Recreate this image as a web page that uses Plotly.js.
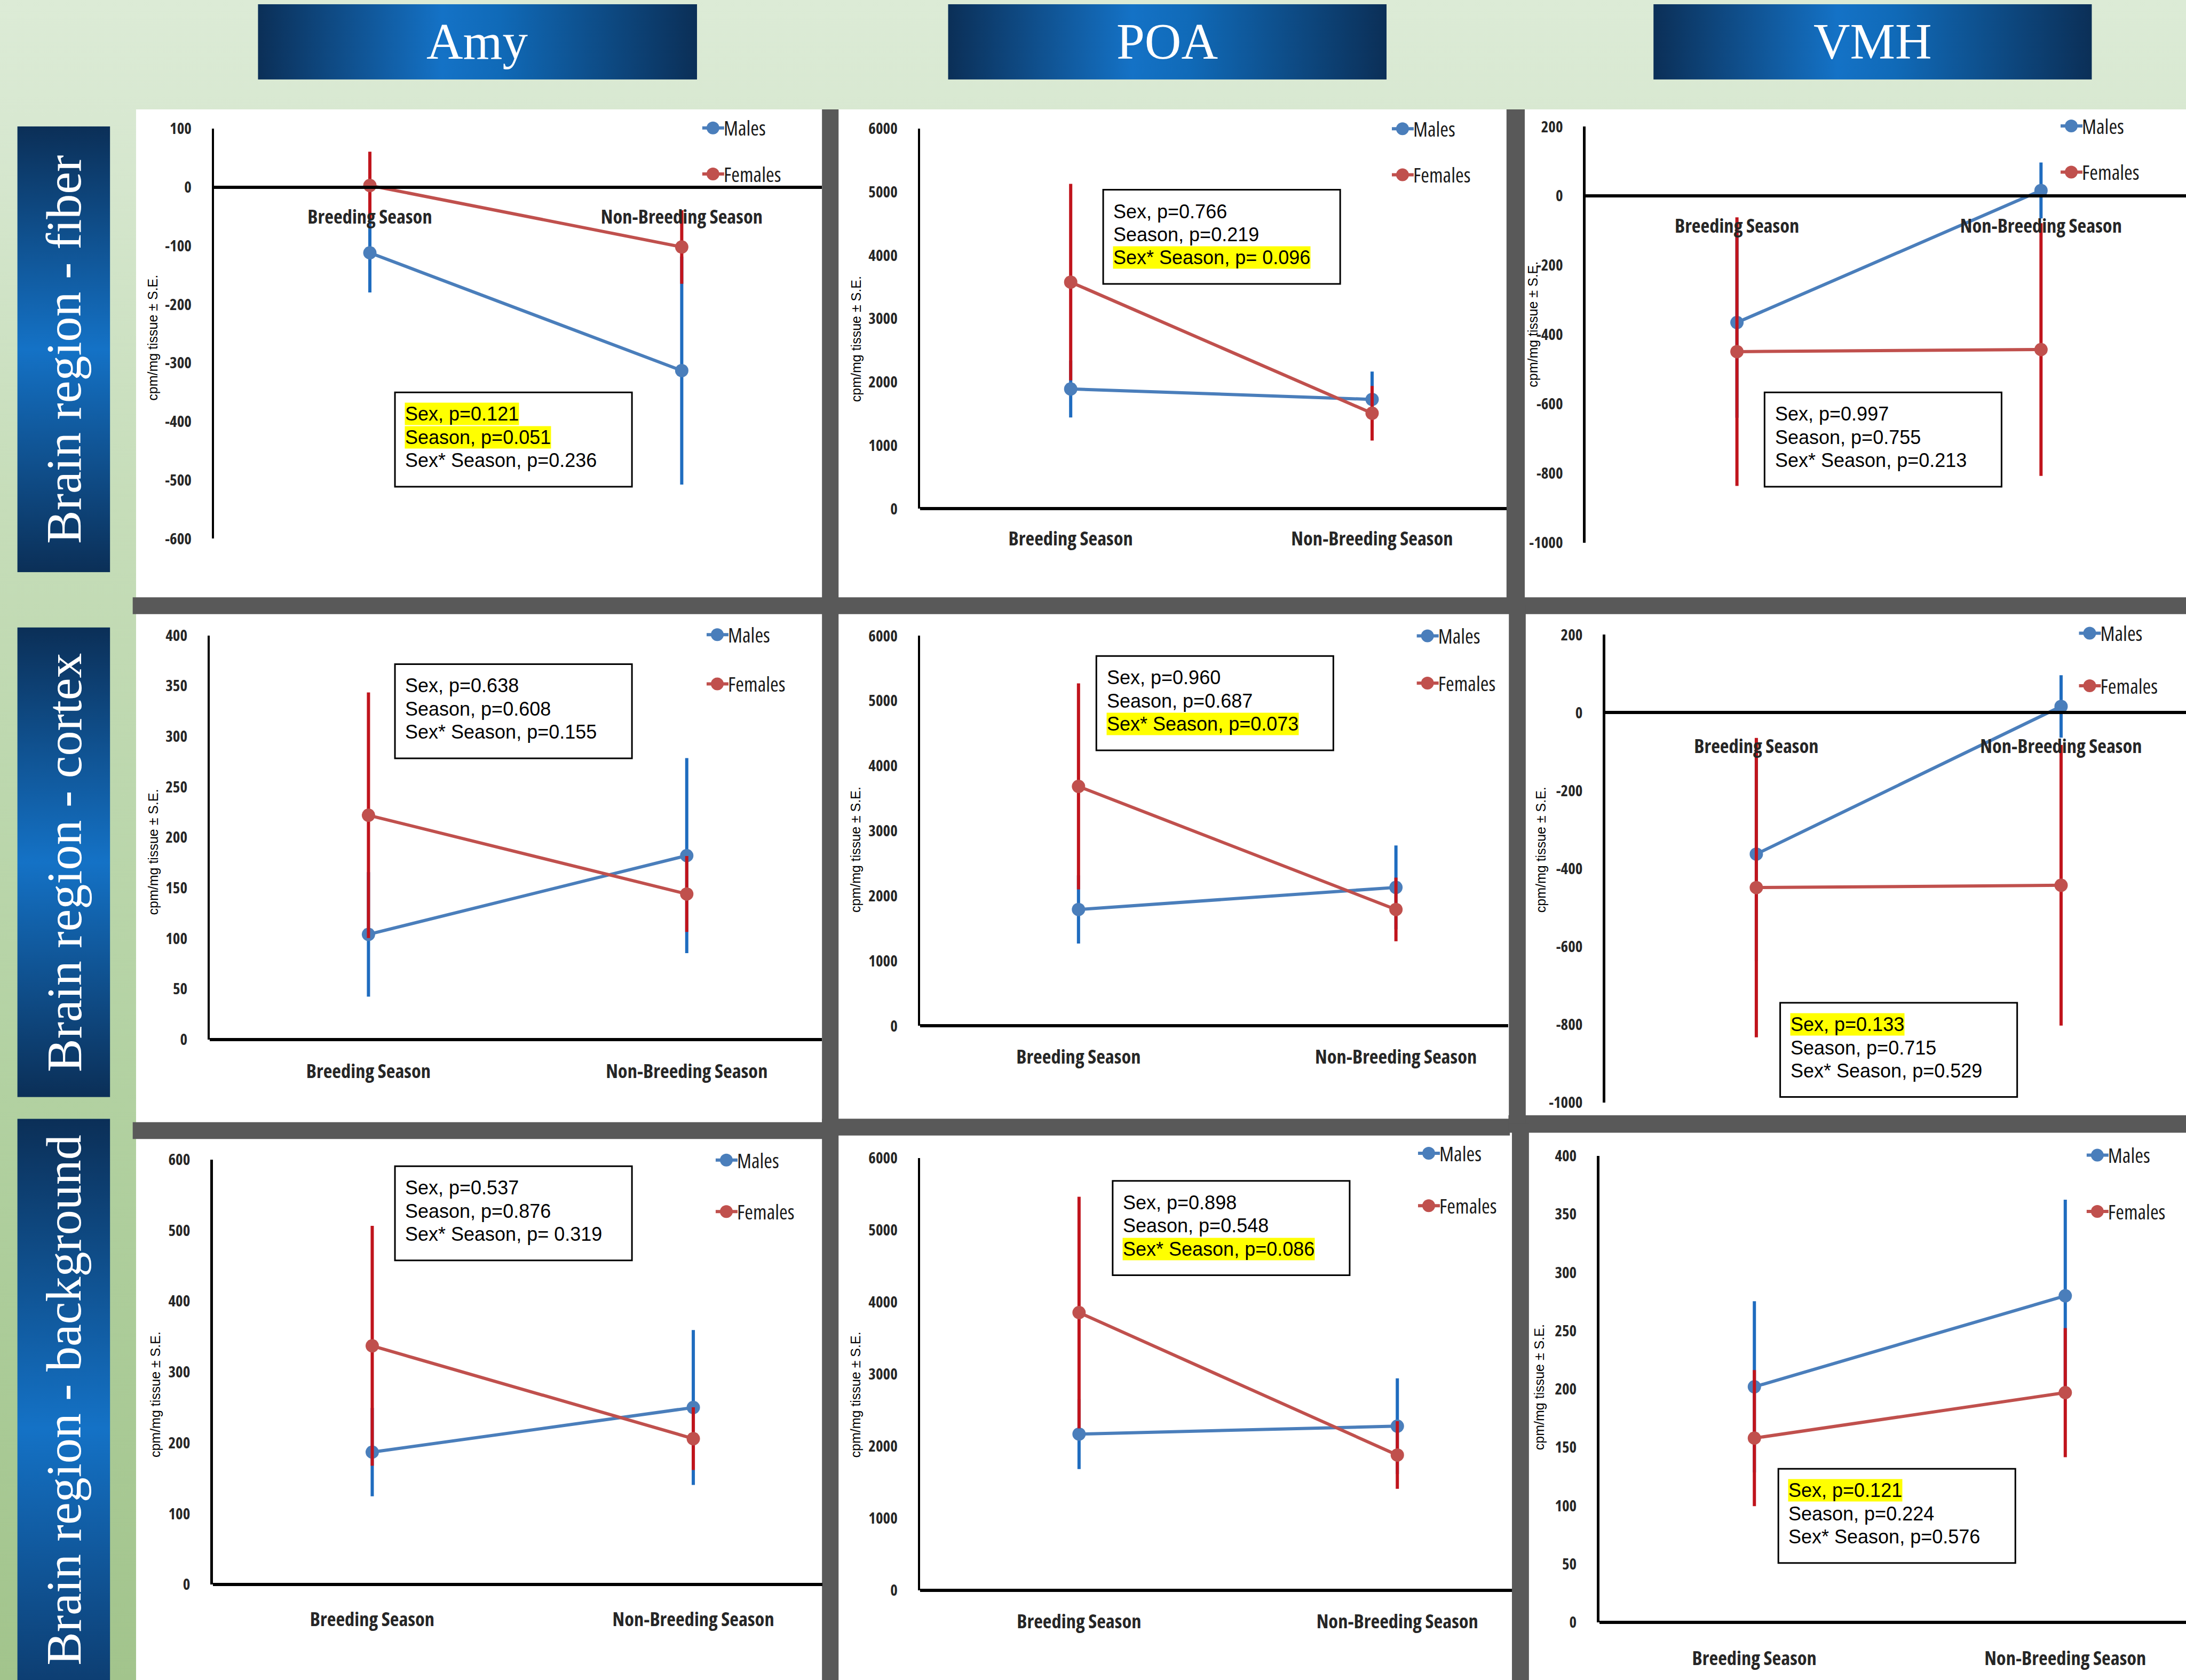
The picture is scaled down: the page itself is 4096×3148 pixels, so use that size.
<!DOCTYPE html>
<html><head><meta charset="utf-8">
<script src="https://cdn.plot.ly/plotly-3.0.1.min.js"></script>
<style>
html,body{margin:0;padding:0;background:#d9ead3;overflow:hidden}
#chart{width:4096px;height:3148px}
text[style*="Open Sans"]{font-stretch:75% !important}
</style>
</head><body><div id="chart"></div>
<script>
// ---------------- DATA ----------------
const categories = ['Breeding Season', 'Non-Breeding Season'];
const regions = ['Amy', 'POA', 'VMH'];
const rowLabels = ['Brain region - fiber', 'Brain region - cortex', 'Brain region - background'];
const seriesNames = ['Males', 'Females'];
const yTitle = 'cpm/mg tissue \u00b1 S.E.';

// Fiber row
const amyFiberMales = [-112, -313];     const amyFiberMalesSE = [65, 192];
const amyFiberFemales = [3, -102];      const amyFiberFemalesSE = [55, 60];
const poaFiberMales = [1892, 1727];     const poaFiberMalesSE = [425, 414];
const poaFiberFemales = [3578, 1509];   const poaFiberFemalesSE = [1526, 405];
const vmhFiberMales = [-365, 16];       const vmhFiberMalesSE = [270, 76];
const vmhFiberFemales = [-449, -443];   const vmhFiberFemalesSE = [383, 360];
// Cortex row
const amyCortexMales = [104, 182];      const amyCortexMalesSE = [60, 95];
const amyCortexFemales = [222, 144];    const amyCortexFemalesSE = [120, 36];
const poaCortexMales = [1791, 2130];    const poaCortexMalesSE = [500, 620];
const poaCortexFemales = [3684, 1791];  const poaCortexFemalesSE = [1560, 465];
const vmhCortexMales = [-363, 16];      const vmhCortexMalesSE = [270, 76];
const vmhCortexFemales = [-449, -443];  const vmhCortexFemalesSE = [380, 356];
// Background row
const amyBgMales = [187, 250];          const amyBgMalesSE = [60, 107];
const amyBgFemales = [337, 206];        const amyBgFemalesSE = [167, 42];
const poaBgMales = [2168, 2278];        const poaBgMalesSE = [463, 642];
const poaBgFemales = [3855, 1877];      const poaBgFemalesSE = [1585, 447];
const vmhBgMales = [202, 280];          const vmhBgMalesSE = [72, 81];
const vmhBgFemales = [158, 197];        const vmhBgFemalesSE = [57, 54];

// Tick labels
const ticksAmyFiber = [100, 0, -100, -200, -300, -400, -500, -600];
const ticksPoa = [0, 1000, 2000, 3000, 4000, 5000, 6000];
const ticksVmhNeg = [200, 0, -200, -400, -600, -800, -1000];
const ticksAmyCortex = [0, 50, 100, 150, 200, 250, 300, 350, 400];
const ticksAmyBg = [0, 100, 200, 300, 400, 500, 600];
const ticksVmhBg = [0, 50, 100, 150, 200, 250, 300, 350, 400];

// Statistics text
const statsAmyFiber = ['Sex, p=0.121', 'Season, p=0.051', 'Sex* Season, p=0.236'];
const hlAmyFiber = [true, true, false];
const statsPoaFiber = ['Sex, p=0.766', 'Season, p=0.219', 'Sex* Season, p= 0.096'];
const hlPoaFiber = [false, false, true];
const statsVmhFiber = ['Sex, p=0.997', 'Season, p=0.755', 'Sex* Season, p=0.213'];
const hlVmhFiber = [false, false, false];
const statsAmyCortex = ['Sex, p=0.638', 'Season, p=0.608', 'Sex* Season, p=0.155'];
const hlAmyCortex = [false, false, false];
const statsPoaCortex = ['Sex, p=0.960', 'Season, p=0.687', 'Sex* Season, p=0.073'];
const hlPoaCortex = [false, false, true];
const statsVmhCortex = ['Sex, p=0.133', 'Season, p=0.715', 'Sex* Season, p=0.529'];
const hlVmhCortex = [true, false, false];
const statsAmyBg = ['Sex, p=0.537', 'Season, p=0.876', 'Sex* Season, p= 0.319'];
const hlAmyBg = [false, false, false];
const statsPoaBg = ['Sex, p=0.898', 'Season, p=0.548', 'Sex* Season, p=0.086'];
const hlPoaBg = [false, false, true];
const statsVmhBg = ['Sex, p=0.121', 'Season, p=0.224', 'Sex* Season, p=0.576'];
const hlVmhBg = [true, false, false];

const panels = [
  {m: amyFiberMales, mse: amyFiberMalesSE, f: amyFiberFemales, fse: amyFiberFemalesSE, ticks: ticksAmyFiber, stats: statsAmyFiber, hl: hlAmyFiber},
  {m: poaFiberMales, mse: poaFiberMalesSE, f: poaFiberFemales, fse: poaFiberFemalesSE, ticks: ticksPoa, stats: statsPoaFiber, hl: hlPoaFiber},
  {m: vmhFiberMales, mse: vmhFiberMalesSE, f: vmhFiberFemales, fse: vmhFiberFemalesSE, ticks: ticksVmhNeg, stats: statsVmhFiber, hl: hlVmhFiber},
  {m: amyCortexMales, mse: amyCortexMalesSE, f: amyCortexFemales, fse: amyCortexFemalesSE, ticks: ticksAmyCortex, stats: statsAmyCortex, hl: hlAmyCortex},
  {m: poaCortexMales, mse: poaCortexMalesSE, f: poaCortexFemales, fse: poaCortexFemalesSE, ticks: ticksPoa, stats: statsPoaCortex, hl: hlPoaCortex},
  {m: vmhCortexMales, mse: vmhCortexMalesSE, f: vmhCortexFemales, fse: vmhCortexFemalesSE, ticks: ticksVmhNeg, stats: statsVmhCortex, hl: hlVmhCortex},
  {m: amyBgMales, mse: amyBgMalesSE, f: amyBgFemales, fse: amyBgFemalesSE, ticks: ticksAmyBg, stats: statsAmyBg, hl: hlAmyBg},
  {m: poaBgMales, mse: poaBgMalesSE, f: poaBgFemales, fse: poaBgFemalesSE, ticks: ticksPoa, stats: statsPoaBg, hl: hlPoaBg},
  {m: vmhBgMales, mse: vmhBgMalesSE, f: vmhBgFemales, fse: vmhBgFemalesSE, ticks: ticksVmhBg, stats: statsVmhBg, hl: hlVmhBg},
];

// ---------------- LAYOUT GEOMETRY (reference units, 1568 wide) ----------------
const W = 4096, H = 3148, K = W / 1568;
const PX = s => s / 1568;
const PY = s => 1 - s * K / H;

// xl: y-axis x, b/n: category centres, xr: right end, yt/yb: top/bottom tick, lo: label offset below x-axis
const geo = [
  {xl:153.6, b:265.3, n:489.0, xr:589.6, yt:92.3, yb:386.4, lo:20.2},
  {xl:660.0, b:768.0, n:984.2, xr:1080.6, yt:92.3, yb:365.0, lo:20.6},
  {xl:1137.3, b:1245.9, n:1464.0, xr:1568, yt:90.9, yb:389.2, lo:20.3},
  {xl:150.6, b:264.3, n:492.6, xr:589.6, yt:455.8, yb:745.6, lo:21.9},
  {xl:660.0, b:773.6, n:1001.3, xr:1082.0, yt:456.1, yb:735.9, lo:21.1},
  {xl:1151.4, b:1259.8, n:1478.4, xr:1568, yt:455.3, yb:790.7, lo:23.2},
  {xl:152.6, b:267.0, n:497.3, xr:590.0, yt:831.7, yb:1136.7, lo:23.8},
  {xl:660.0, b:774.0, n:1002.3, xr:1084.5, yt:830.7, yb:1140.7, lo:21.2},
  {xl:1147.1, b:1258.4, n:1481.4, xr:1568, yt:829.1, yb:1163.8, lo:24.7},
];
const boxPos = [[283.3,281.5],[791.3,136.1],[1265.7,281.5],[283.3,476.4],[786.4,470.6],[1276.9,719.3],[283.3,836.5],[798.1,847.1],[1275.6,1053.6]];
const titlePos = [[109.7,242.4],[613.8,243],[1099.3,232.8],[109.7,611.3],[613.7,609.4],[1105.3,609.4],[111.7,1000.4],[613.7,1000.4],[1104.3,995.1]];
const legPos = [[511.4,90.9,124],[1006,91.5,124.3],[1485.7,89.5,122.6],[514.5,454.4,489.8],[1023.9,455.3,489],[1498.9,453.4,491.1],[521,831.3,868.2],[1024.8,826.4,863.9],[1504.4,827.8,867.9]];

const MALE = '#4a7ebb', MALE_ERR = '#1f6cbf', FEM = '#c0504d', FEM_ERR = '#c0141c';
const COND = "'Open Sans', 'Roboto Condensed', sans-serif";
const ARIAL = "'Liberation Sans', Arial, sans-serif";
const SERIF = "'Liberation Serif', 'Times New Roman', serif";
const ITEM_H = 52;

const traces = [];
const layout = {
  width: W, height: H, margin: {l:0, r:0, t:0, b:0}, autosize: false,
  paper_bgcolor: '#d9ead3', plot_bgcolor: 'rgba(0,0,0,0)',
  shapes: [], annotations: [], images: []
};

panels.forEach((p, i) => {
  const sfx = i === 0 ? '' : String(i + 1);
  const leg = i === 0 ? 'legend' : 'legend' + (i + 1);
  const g = geo[i];
  const vmax = Math.max(...p.ticks), vmin = Math.min(...p.ticks);
  const zeroY = g.yt + (vmax / (vmax - vmin)) * (g.yb - g.yt);
  const unit = g.n - g.b;
  traces.push({
    x: categories, y: p.m, name: seriesNames[0], type: 'scatter', mode: 'lines+markers',
    xaxis: 'x' + sfx, yaxis: 'y' + sfx, legend: leg, legendgroup: 'm' + i,
    line: {color: MALE, width: 6}, marker: {color: MALE, size: 25},
    error_y: {type: 'data', array: p.mse, visible: true, color: MALE_ERR, thickness: 6, width: 3}
  });
  traces.push({
    x: categories, y: p.f, name: seriesNames[1], type: 'scatter', mode: 'lines+markers',
    xaxis: 'x' + sfx, yaxis: 'y' + sfx, legend: leg, legendgroup: 'f' + i,
    line: {color: FEM, width: 6}, marker: {color: FEM, size: 25},
    error_y: {type: 'data', array: p.fse, visible: true, color: FEM_ERR, thickness: 6, width: 3}
  });
  layout['xaxis' + sfx] = {
    type: 'category', domain: [PX(g.xl), PX(g.xr)], range: [(g.xl - g.b) / unit, (g.xr - g.b) / unit],
    anchor: 'free', position: PY(zeroY), showline: true, linecolor: '#000', linewidth: 6,
    showgrid: false, zeroline: false, ticks: '',
    ticklabelstandoff: Math.round(30 + (g.lo - 23.5) * K),
    tickfont: {family: COND, size: 36.5, color: '#262626', weight: 'bold'}, fixedrange: true
  };
  layout['yaxis' + sfx] = {
    anchor: 'x' + sfx, domain: [PY(g.yb), PY(g.yt)], range: [vmin, vmax],
    tickmode: 'array', tickvals: p.ticks, ticktext: p.ticks.map(String),
    showline: true, linecolor: '#000', linewidth: 4.5, showgrid: false, zeroline: false,
    ticks: '', ticklabelstandoff: 32,
    tickfont: {family: COND, size: 29, color: '#262626', weight: 'bold'}, fixedrange: true
  };
  const lp = legPos[i];
  layout[leg] = {
    x: (lp[0] * K - 20) / W, y: 1 - (lp[1] * K - 29) / H, xanchor: 'left', yanchor: 'top',
    bgcolor: 'rgba(0,0,0,0)', borderwidth: 0, font: {family: COND, size: 38, color: '#1a1a1a'},
    tracegroupgap: Math.round((lp[2] - lp[1]) * K - ITEM_H), traceorder: 'grouped'
  };
  // stats box
  const bp = boxPos[i];
  layout.shapes.push({type: 'rect', xref: 'paper', yref: 'paper', layer: 'below',
    x0: PX(bp[0]), x1: PX(bp[0] + 170), y0: PY(bp[1]), y1: PY(bp[1] + 67.6),
    line: {color: '#000', width: 3}, fillcolor: '#fff'});
  const offs = [15.5, 32.2, 48.7];
  p.stats.forEach((t, j) => {
    layout.annotations.push({text: t, xref: 'paper', yref: 'paper', x: PX(bp[0] + 7), y: PY(bp[1] + offs[j]),
      xanchor: 'left', yanchor: 'middle', showarrow: false, borderpad: 0,
      bgcolor: p.hl[j] ? '#ffff00' : 'rgba(0,0,0,0)', font: {family: ARIAL, size: 36, color: '#000'}});
  });
  const tp = titlePos[i];
  layout.annotations.push({text: yTitle, xref: 'paper', yref: 'paper', x: PX(tp[0]), y: PY(tp[1]),
    xanchor: 'center', yanchor: 'middle', textangle: -90, showarrow: false,
    font: {family: ARIAL, size: 25, color: '#000'}});
});

// panel backgrounds and separators (drawn first)
const rect = (x0, x1, y0, y1, color) => ({type: 'rect', xref: 'paper', yref: 'paper', layer: 'below',
  x0: PX(x0), x1: PX(x1), y0: PY(y0), y1: PY(y1), line: {width: 0}, fillcolor: color});
const GRAY = '#595959';
const deco = [
  rect(97.6, 1568, 78.5, 1206, '#ffffff'),
  rect(95.2, 1568, 428.5, 440.5, GRAY),
  rect(95.2, 590, 805, 817, GRAY),
  rect(589.6, 1083, 802.5, 814.5, GRAY),
  rect(1082, 1568, 800, 812.5, GRAY),
  rect(589.6, 601.5, 78.5, 1206, GRAY),
  rect(1080.6, 1093.7, 78.5, 434, GRAY),
  rect(1082.3, 1094.4, 434, 806, GRAY),
  rect(1084.5, 1096.7, 806, 1206, GRAY),
];
layout.shapes = deco.concat(layout.shapes);

// gradient decorations as images
function gradURI(dir, stops) {
  const x2 = dir === 'h' ? 1 : 0, y2 = dir === 'h' ? 0 : 1;
  const st = stops.map(s => `<stop offset="${s[0]}" stop-color="${s[1]}"/>`).join('');
  const svg = `<svg xmlns="http://www.w3.org/2000/svg" width="100" height="100" viewBox="0 0 100 100" preserveAspectRatio="none"><defs><linearGradient id="g" x1="0" y1="0" x2="${x2}" y2="${y2}">${st}</linearGradient></defs><rect width="100" height="100" fill="url(#g)"/></svg>`;
  return 'data:image/svg+xml;base64,' + btoa(svg);
}
const img = (src, x0, x1, y0, y1) => ({source: src, xref: 'paper', yref: 'paper', x: PX(x0), y: PY(y0),
  sizex: PX(x1) - PX(x0), sizey: PY(y0) - PY(y1), xanchor: 'left', yanchor: 'top', sizing: 'stretch', layer: 'below'});
const bgGrad = gradURI('v', [[0, '#dcebd6'], [0.07, '#d8e8d1'], [0.3, '#c6ddb9'], [0.65, '#b2d1a1'], [1, '#a2c48c']]);
const hdrGrad = gradURI('h', [[0, '#0b2f57'], [0.42, '#1472c6'], [0.55, '#106ab8'], [1, '#0b2f57']]);
const rowGrad = gradURI('v', [[0, '#0b2f57'], [0.5, '#1472c6'], [1, '#0b2f57']]);
const row3Grad = gradURI('v', [[0, '#0b2f57'], [0.55, '#1472c6'], [1, '#0d3e72']]);
layout.images.push(img(bgGrad, 0, 1568, 0, 1206));
const hdrX = [[185, 500], [680, 994.6], [1186, 1500.5]];
hdrX.forEach((h, c) => {
  layout.images.push(img(hdrGrad, h[0], h[1], 3, 57));
  layout.annotations.push({text: regions[c], xref: 'paper', yref: 'paper', x: PX((h[0] + h[1]) / 2), y: PY(30),
    xanchor: 'center', yanchor: 'middle', showarrow: false, font: {family: SERIF, size: 95, color: '#ffffff'}});
});
const rowY = [[90.6, 410.5], [450, 787], [802.5, 1206]];
rowY.forEach((r, k) => {
  layout.images.push(img(k === 2 ? row3Grad : rowGrad, 12.4, 79, r[0], r[1]));
  layout.annotations.push({text: rowLabels[k], xref: 'paper', yref: 'paper', x: PX(45.7), y: PY((r[0] + r[1]) / 2),
    xanchor: 'center', yanchor: 'middle', textangle: -90, showarrow: false,
    font: {family: SERIF, size: 94, color: '#ffffff'}});
});

Plotly.newPlot('chart', traces, layout, {displayModeBar: false, staticPlot: true}).then(gd => {
  // enlarge legend symbols to match the reference's bigger markers / longer lines
  gd.querySelectorAll('.legendpoints path.scatterpts').forEach(el => {
    const r = 12;
    el.setAttribute('d', `M${r},0A${r},${r} 0 1,1 0,-${r}A${r},${r} 0 0,1 ${r},0Z`);
  });
  gd.querySelectorAll('.legendlines path').forEach(el => {
    el.setAttribute('d', 'M-1,0h42');
  });
});
</script></body></html>
